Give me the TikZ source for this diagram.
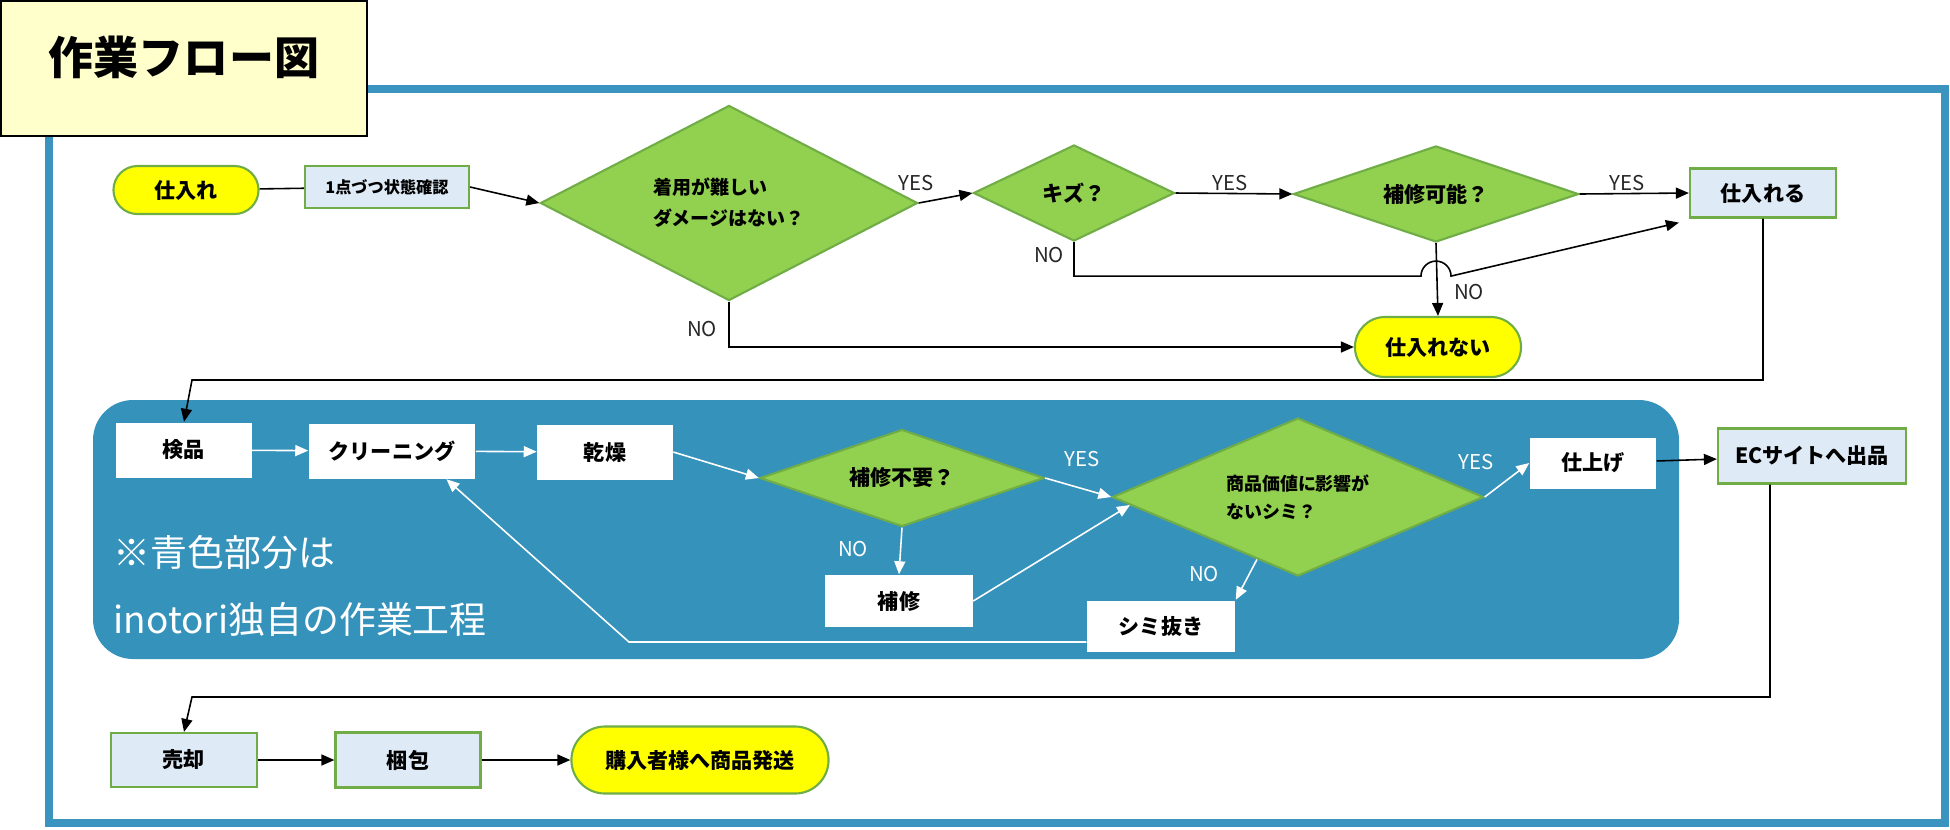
\documentclass[tikz,border=0pt]{standalone}
\usepackage{fontspec}
\newfontfamily\jp{Noto Sans CJK JP}
\usetikzlibrary{shapes.geometric,arrows.meta,calc}
\definecolor{framec}{HTML}{3A94BF}
\definecolor{panelc}{HTML}{3592BB}
\definecolor{diac}{HTML}{92D050}
\definecolor{edgec}{HTML}{70AD47}
\definecolor{boxc}{HTML}{DEEBF7}
\definecolor{titlec}{HTML}{FFFFCC}
\definecolor{pillc}{HTML}{FFFF00}
\tikzset{
  txt/.style={font=\jp\fontsize{6}{7}\selectfont\bfseries},
  bbox/.style={txt,draw=edgec,fill=boxc,line width=0.6pt,inner sep=0pt},
  wbox/.style={txt,fill=white,inner sep=0pt},
  pill/.style={txt,draw=edgec,fill=pillc,line width=0.6pt,inner sep=0pt},
  dia/.style={txt,diamond,draw=edgec,fill=diac,line width=0.6pt,inner sep=0pt},
  yn/.style={font=\jp\fontsize{5.8}{7}\selectfont,text=black!85,inner sep=0pt},
  ynw/.style={yn,text=white},
  arr/.style={line width=0.45pt,-{Triangle[length=0.13cm,width=0.11cm]}},
  warr/.style={arr,draw=white},
  ln/.style={line width=0.45pt},
}
\begin{document}
\begin{tikzpicture}[x=0.01cm,y=-0.01cm]
  \useasboundingbox (0,0) rectangle (1950,829);
  \draw[framec,line width=0.08cm] (49,89) rectangle (1945,823);
  \filldraw[fill=titlec,draw=black,line width=0.6pt] (1,1) rectangle (367,136);
  \node[font=\jp\fontsize{12.8}{14}\selectfont\bfseries] (title) at (184,57) {作業フロー図};
  \fill[panelc,rounded corners=0.4cm] (93,400) rectangle (1679,659);
  \node[font=\jp\fontsize{10.5}{12}\selectfont,text=white,anchor=west,inner sep=0pt] (note1) at (113,552) {※青色部分は};
  \node[font=\jp\fontsize{10.5}{12}\selectfont,text=white,anchor=west,inner sep=0pt] (note2) at (113,619) {inotori独自の作業工程};

  \node[pill,rounded corners=0.24cm,minimum width=1.45cm,minimum height=0.48cm] (shire) at (186,190) {仕入れ};
  \node[bbox,font=\jp\fontsize{4.6}{6}\selectfont\bfseries,minimum width=1.64cm,minimum height=0.42cm] (kakunin) at (387,187) {1点づつ状態確認};
  \node[dia,aspect=1.93,font=\jp\fontsize{5.4}{8.8}\selectfont\bfseries,align=left,minimum width=3.77cm,minimum height=1.95cm] (chakuyo) at (729,203) {着用が難しい\\ダメージはない？};
  \node[dia,aspect=2.1,minimum width=2.01cm,minimum height=0.96cm] (kizu) at (1074,193) {キズ？};
  \node[dia,aspect=2.97,minimum width=2.85cm,minimum height=0.96cm] (kanou) at (1436,194) {補修可能？};
  \node[bbox,minimum width=1.46cm,minimum height=0.49cm] (shireru) at (1763,193) {仕入れる};
  \node[pill,rounded corners=0.3cm,minimum width=1.66cm,minimum height=0.6cm] (shirenai) at (1438,347) {仕入れない};

  \node[wbox,minimum width=1.35cm,minimum height=0.55cm] (kenpin) at (184,450) {検品};
  \node[wbox,minimum width=1.66cm,minimum height=0.55cm] (clean) at (392,451) {クリーニング};
  \node[wbox,minimum width=1.35cm,minimum height=0.55cm] (kansou) at (605,452) {乾燥};
  \node[dia,aspect=2.93,minimum width=2.84cm,minimum height=0.97cm] (fuyou) at (902,478) {補修不要？};
  \node[wbox,minimum width=1.47cm,minimum height=0.52cm] (hoshu) at (899,601) {補修};
  \node[dia,aspect=2.35,font=\jp\fontsize{5.1}{8}\selectfont\bfseries,align=left,minimum width=3.71cm,minimum height=1.58cm] (shohin) at (1298,497) {商品価値に影響が\\ないシミ？};
  \node[wbox,minimum width=1.48cm,minimum height=0.51cm] (shiminuki) at (1161,626) {シミ抜き};
  \node[wbox,minimum width=1.26cm,minimum height=0.51cm] (shiage) at (1593,463) {仕上げ};
  \node[bbox,minimum width=1.88cm,minimum height=0.55cm] (ec) at (1812,456) {ECサイトへ出品};

  \node[bbox,minimum width=1.46cm,minimum height=0.54cm] (baikyaku) at (184,760) {売却};
  \node[bbox,minimum width=1.45cm,minimum height=0.55cm] (konpou) at (408,760) {梱包};
  \node[pill,rounded corners=0.335cm,minimum width=2.57cm,minimum height=0.67cm] (hassou) at (700,760) {購入者様へ商品発送};

  \node[yn] (yes1) at (916,183) {YES};
  \node[yn] (yes2) at (1230,183) {YES};
  \node[yn] (yes3) at (1627,183) {YES};
  \node[yn] (no1) at (702,329) {NO};
  \node[yn] (no2) at (1049,255) {NO};
  \node[yn] (no3) at (1469,292) {NO};
  \node[ynw] (yes4) at (1082,459) {YES};
  \node[ynw] (no4) at (853,549) {NO};
  \node[ynw] (no5) at (1204,574) {NO};
  \node[ynw] (yes5) at (1476,462) {YES};

  \draw[ln] (shire) -- (kakunin);
  \draw[arr] (kakunin.east) -- (chakuyo.west);
  \draw[arr] (chakuyo.east) -- (kizu.west);
  \draw[arr] (kizu.east) -- (kanou.west);
  \draw[arr] (kanou.east) -- (shireru.west);
  \coordinate (hopA) at ($(kanou.south)+(-15,33)$);
  \draw[arr] (kizu.south) |- (hopA) arc[start angle=180,end angle=0,radius=0.15cm] -- ([xshift=-0.1cm,yshift=-0.04cm]shireru.south west);
  \draw[arr] (kanou.south) -- (shirenai.north);
  \draw[arr] (chakuyo.south) |- (shirenai.west);
  \coordinate (turnA) at (192,380);
  \draw[arr] (shireru.south) |- (turnA) -- (kenpin.north);

  \draw[warr] (kenpin) -- (clean);
  \draw[warr] (clean) -- (kansou);
  \draw[warr] (kansou.east) -- (fuyou.west);
  \draw[warr] (fuyou.east) -- (shohin.west);
  \draw[warr] (fuyou.south) -- (hoshu.north);
  \draw[warr] (hoshu.east) -- ($(shohin.west)!0.1!(shohin.south)$);
  \draw[warr] ($(shohin.south)!0.22!(shohin.west)$) -- (shiminuki.north east);
  \draw[warr] (shohin.east) -- (shiage.west);
  \coordinate (turnB) at (629,642);
  \draw[warr] ([yshift=-0.16cm]shiminuki.west) -- (turnB) -- ($(clean.south)!0.65!(clean.south east)$);

  \draw[arr] (shiage) -- (ec);
  \coordinate (turnC) at (192,697);
  \draw[arr] ([xshift=-0.42cm]ec.south) |- (turnC) -- (baikyaku.north);
  \draw[arr] (baikyaku) -- (konpou);
  \draw[arr] (konpou) -- (hassou);
\end{tikzpicture}
\end{document}
